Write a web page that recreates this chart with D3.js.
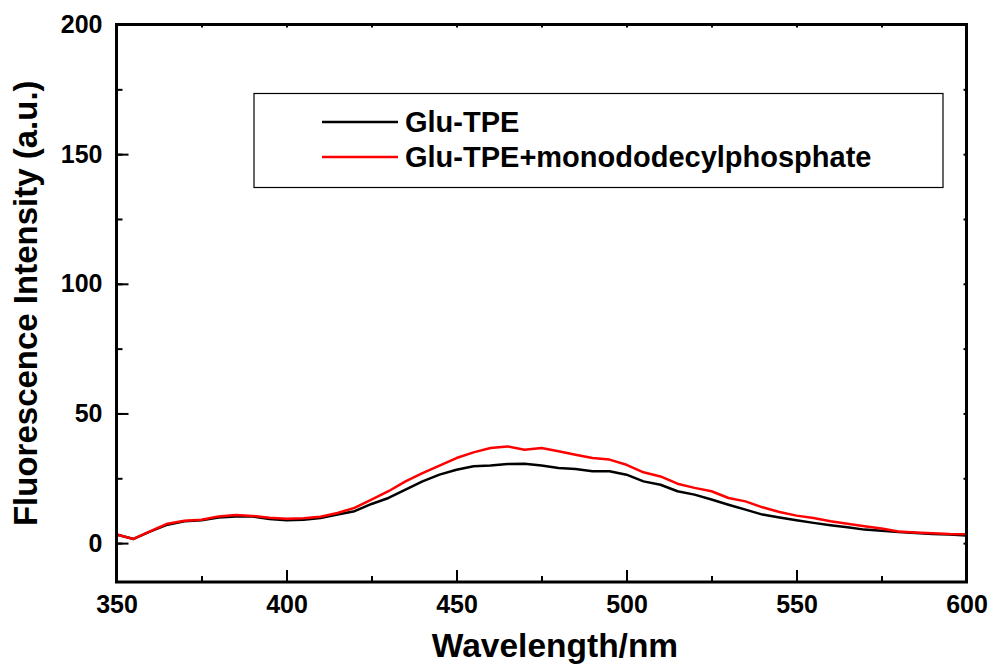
<!DOCTYPE html>
<html>
<head>
<meta charset="utf-8">
<script src="https://cdn.jsdelivr.net/npm/d3@7"></script>
<style>
  body { margin: 0; background: #fff; }
  svg { display: block; font-family: "Liberation Sans", Arial, sans-serif; font-weight: bold; }
</style>
</head>
<body>
<div id="chart"></div>
<script>
const wavelength = [350, 355, 360, 365, 370, 375, 380, 385, 390, 395, 400, 405, 410, 415, 420, 425,
  430, 435, 440, 445, 450, 455, 460, 465, 470, 475, 480, 485, 490, 495, 500, 505, 510, 515, 520,
  525, 530, 535, 540, 545, 550, 555, 560, 565, 570, 575, 580, 585, 590, 595, 600]

const gluTPE = [3.3, 1.6, 4.5, 7.1, 8.4, 8.8, 9.9, 10.3, 10.3, 9.3, 8.8, 9.0, 9.7, 11.0, 12.3, 15.1,
  17.4, 20.6, 23.8, 26.4, 28.3, 29.6, 29.9, 30.5, 30.6, 29.9, 29.0, 28.6, 27.7, 27.7, 26.4, 23.8, 22.5, 20.0, 18.7,
  16.8, 14.8, 12.9, 11.0, 9.9, 8.8, 7.8, 6.9, 6.1, 5.2, 4.8, 4.3, 3.9, 3.5, 3.3, 2.9]

const gluTPEPhosphate = [3.3, 1.6, 4.6, 7.5, 8.6, 9.0, 10.3, 10.8, 10.5, 9.8, 9.4, 9.6, 10.2, 11.6, 13.6, 16.8,
  20.0, 23.8, 27.0, 29.9, 32.8, 35.0, 36.7, 37.3, 36.0, 36.7, 35.4, 34.1, 32.8, 32.2, 30.2, 27.3, 25.7, 22.9, 21.3,
  20.0, 17.4, 16.1, 13.8, 12.0, 10.6, 9.7, 8.4, 7.5, 6.5, 5.6, 4.5, 4.1, 3.8, 3.5, 3.4]

const seriesNames = ['Glu-TPE', 'Glu-TPE+monododecylphosphate']
const seriesColors = ['#000000', '#ff0000']
const xTicks = [350, 400, 450, 500, 550, 600]
const yTicks = [0, 50, 100, 150, 200]

const W = 991, H = 665
const margin = { top: 24.5, right: 24.5, bottom: 83, left: 116.5 }
const FONT = '"Liberation Sans", Arial, sans-serif'

const svg = d3.select('#chart').append('svg')
  .attr('width', W)
  .attr('height', H)

const x = d3.scaleLinear().domain([350, 600]).range([margin.left, W - margin.right])
const y = d3.scaleLinear().domain([-15, 200]).range([H - margin.bottom, margin.top])

const minorX = d3.range(350, 601, 25)
const minorY = d3.range(0, 201, 25)

/* curves */
const series = [gluTPE, gluTPEPhosphate]
const line = d3.line()
  .x((d, i) => x(wavelength[i]))
  .y(d => y(d))

const plot = svg.append('g')
series.forEach((s, k) => {
  plot.append('path')
    .datum(s)
    .attr('fill', 'none')
    .attr('stroke', seriesColors[k])
    .attr('stroke-width', 2.5)
    .attr('stroke-linejoin', 'round')
    .attr('d', line)
})

/* axes: ticks point inward */
const axisStyle = g => {
  g.attr('font-family', FONT).attr('font-size', 25).attr('font-weight', 'bold')
  g.select('.domain').remove()
  g.selectAll('line').attr('stroke', '#000').attr('stroke-width', 2)
  g.selectAll('text').attr('fill', '#000')
}

svg.append('g')
  .attr('transform', `translate(0,${y.range()[0]})`)
  .call(d3.axisBottom(x).tickValues(minorX).tickSize(-6).tickFormat(''))
  .call(axisStyle)
svg.append('g')
  .attr('transform', `translate(0,${y.range()[0]})`)
  .call(d3.axisBottom(x).tickValues(xTicks).tickSize(-12).tickPadding(13).tickFormat(d3.format('d')))
  .call(axisStyle)

svg.append('g')
  .attr('transform', `translate(${x.range()[0]},0)`)
  .call(d3.axisLeft(y).tickValues(minorY).tickSize(-6).tickFormat(''))
  .call(axisStyle)
svg.append('g')
  .attr('transform', `translate(${x.range()[0]},0)`)
  .call(d3.axisLeft(y).tickValues(yTicks).tickSize(-12).tickPadding(14).tickFormat(d3.format('d')))
  .call(axisStyle)

/* mirrored tiny ticks on top and right */
svg.append('g')
  .attr('transform', `translate(0,${y.range()[1]})`)
  .call(d3.axisTop(x).tickValues(minorX).tickSize(-3).tickFormat(''))
  .call(axisStyle)
svg.append('g')
  .attr('transform', `translate(${x.range()[1]},0)`)
  .call(d3.axisRight(y).tickValues(minorY).tickSize(-3).tickFormat(''))
  .call(axisStyle)

/* frame */
svg.append('rect')
  .attr('x', x.range()[0])
  .attr('y', y.range()[1])
  .attr('width', x.range()[1] - x.range()[0])
  .attr('height', y.range()[0] - y.range()[1])
  .attr('fill', 'none')
  .attr('stroke', '#000')
  .attr('stroke-width', 3)

/* axis titles */
svg.append('text')
  .attr('x', 555)
  .attr('y', 657)
  .attr('text-anchor', 'middle')
  .attr('font-size', '33.5px')
  .text('Wavelength/nm')

svg.append('text')
  .attr('transform', `translate(37,${(y.range()[0] + y.range()[1]) / 2}) rotate(-90)`)
  .attr('text-anchor', 'middle')
  .attr('font-size', '33px')
  .text('Fluorescence Intensity (a.u.)')

/* legend */
const legend = svg.append('g')
legend.append('rect')
  .attr('x', 254)
  .attr('y', 93.5)
  .attr('width', 689)
  .attr('height', 94)
  .attr('fill', '#fff')
  .attr('stroke', '#000')
  .attr('stroke-width', 1.2)

seriesNames.forEach((name, k) => {
  const ly = 122 + k * 35
  legend.append('line')
    .attr('x1', 322).attr('x2', 398)
    .attr('y1', ly).attr('y2', ly)
    .attr('stroke', seriesColors[k])
    .attr('stroke-width', 2.5)
  legend.append('text')
    .attr('x', 405)
    .attr('y', ly + 10)
    .attr('font-size', '29px')
    .text(name)
})
</script>
</body>
</html>
